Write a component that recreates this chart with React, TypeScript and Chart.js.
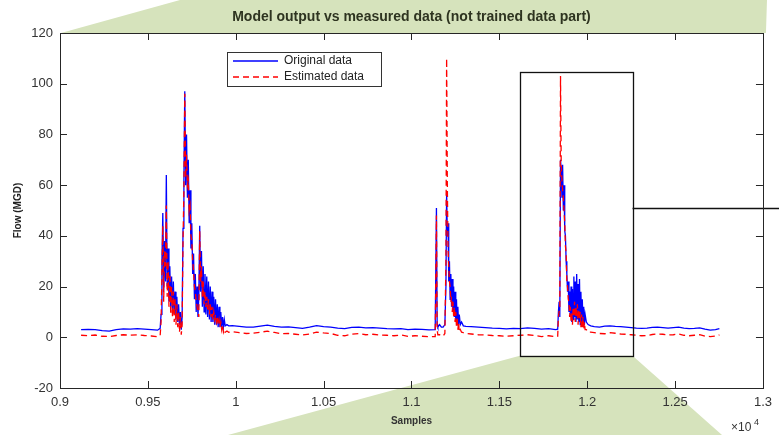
import React, { useEffect, useRef } from "react";
import { Chart, registerables } from "chart.js";

Chart.register(...registerables);

// ---- Data (samples, flow in MGD) ----
const samples = [
  // baseline before first event
  9120, 9160, 9200, 9240, 9280, 9320, 9360, 9400, 9440, 9480, 9520, 9555, 9570,
  // first event
  9575, 9580, 9585, 9590, 9595, 9600, 9605, 9610, 9615, 9620, 9625, 9630, 9635, 9640, 9645, 9650,
  9655, 9660, 9665, 9670, 9675, 9680, 9685, 9690, 9695, 9700, 9705, 9710, 9715, 9720, 9725, 9730,
  9735, 9740, 9745, 9750, 9755, 9760, 9765, 9770, 9775, 9780, 9785, 9790, 9795, 9800, 9805, 9810,
  9815, 9820, 9825, 9830, 9835, 9840, 9845, 9850, 9855, 9860, 9865, 9870, 9875, 9880, 9885, 9890,
  9895, 9900, 9905, 9910, 9915, 9920, 9925, 9930, 9935, 9940, 9950, 9960,
  // baseline
  9980, 10020, 10060, 10100, 10140, 10180, 10220, 10260, 10300, 10340, 10380, 10420, 10460, 10500,
  10540, 10580, 10620, 10660, 10700, 10740, 10780, 10820, 10860, 10900, 10940, 10980, 11020, 11060,
  11100, 11135,
  // second event
  11142, 11146, 11150, 11160, 11170, 11180, 11190, 11196, 11200, 11204, 11208, 11212, 11216, 11220,
  11224, 11228, 11232, 11236, 11240, 11244, 11248, 11252, 11256, 11260, 11264, 11268, 11272, 11278,
  11285, 11295, 11310,
  // baseline
  11340, 11380, 11420, 11460, 11500, 11540, 11580, 11620, 11660, 11700, 11740, 11780, 11820, 11832,
  // third event
  11836, 11840, 11844, 11848, 11852, 11856, 11860, 11864, 11868, 11872, 11876, 11880, 11884, 11888,
  11892, 11896, 11900, 11904, 11908, 11912, 11916, 11920, 11924, 11928, 11932, 11936, 11940, 11944,
  11948, 11952, 11956, 11960, 11964, 11968, 11972, 11976, 11980, 11984, 11988, 11995, 12005, 12020,
  12040,
  // baseline after
  12070, 12100, 12130, 12160, 12190, 12220, 12250, 12280, 12310, 12340, 12370, 12400, 12430, 12460,
  12490, 12520, 12550, 12580, 12610, 12640, 12670, 12700, 12730, 12752,
];

const originalFlow = [
  3.0, 3.1, 3.0, 2.6, 2.4, 3.0, 3.3, 3.2, 3.4, 3.2, 3.0, 2.8, 3.5,
  9, 30, 49, 18, 38, 22, 64, 20, 35, 14, 28, 12, 24, 10, 22, 9,
  18, 7, 16, 6, 13, 5, 10, 3, 8, 43, 62, 97, 60, 80, 55, 70,
  45, 58, 35, 45, 25, 33, 15, 25, 10, 20, 8, 16, 44, 18, 34, 12,
  28, 10, 25, 9, 24, 8, 22, 7, 20, 6, 18, 6, 16, 5, 15, 5,
  13, 4, 12, 4, 10, 4, 8, 4, 7, 4.5, 5, 4.5,
  4.6, 4.3, 4.0, 4.0, 4.4, 4.8, 4.3, 4.0, 4.1, 3.8, 3.5, 4.0, 4.6, 4.2,
  4.0, 3.6, 3.4, 3.9, 4.0, 3.7, 3.8, 3.6, 3.4, 3.3, 3.4, 3.0, 3.2, 3.1,
  2.9, 3.0,
  51, 5, 4, 5, 4, 4, 5, 20, 57, 40, 45, 22, 30, 15,
  25, 12, 23, 10, 20, 8, 18, 6, 15, 5, 12, 5, 9, 5,
  6, 4.5, 4.3,
  4.2, 4.0, 3.8, 3.6, 3.5, 3.3, 3.5, 3.4, 3.7, 3.5, 3.2, 3.4, 3.0, 3.2,
  10, 14, 8, 70, 66, 55, 68, 50, 60, 42, 40, 30, 25, 18,
  22, 10, 18, 8, 20, 6, 19, 7, 24, 8, 22, 6, 25, 7,
  21, 6, 23, 5, 18, 6, 15, 5, 12, 5, 9, 6, 5, 4.5,
  4.2,
  4.0, 4.4, 4.5, 4.3, 4.2, 4.0, 3.8, 3.6, 3.5, 3.6, 3.9, 4.0, 3.8, 3.6,
  3.8, 4.0, 3.6, 3.4, 3.5, 3.7, 3.2, 2.8, 3.0, 3.4,
];

const estimatedFlow = [
  0.8, 0.6, 0.9, 0.4, 0.3, 0.7, 1.0, 0.8, 1.0, 0.7, 0.5, 0.2, 0.8,
  6, 25, 44, 14, 34, 28, 52, 16, 30, 12, 25, 9, 20, 8, 18, 6,
  15, 5, 13, 4, 10, 2, 8, 1, 5, 38, 58, 96, 63, 72, 60, 62,
  50, 52, 40, 38, 30, 26, 20, 18, 14, 12, 10, 8, 42, 22, 28, 16,
  22, 13, 18, 12, 16, 11, 15, 9, 13, 8, 12, 7, 10, 7, 9, 6,
  8, 5, 7, 4, 6, 3, 5, 2, 3, 2, 2.5, 2,
  2.2, 1.8, 1.5, 1.6, 2.0, 2.4, 1.9, 1.4, 1.5, 1.2, 0.9, 1.3, 2.0, 1.7,
  1.5, 0.8, 0.6, 1.2, 1.5, 1.0, 1.2, 0.9, 0.8, 0.6, 0.9, 0.4, 0.6, 0.4,
  0.2, 0.3,
  48, 3, 1, 1, 0.5, 0.5, 1.5, 30, 110, 60, 35, 28, 22, 20,
  14, 16, 10, 14, 8, 12, 6, 10, 4, 8, 3, 6, 2, 3,
  2, 1.8, 1.5,
  1.3, 1.0, 0.9, 0.7, 0.6, 0.4, 0.6, 0.8, 1.0, 0.7, 0.3, 0.6, 0.2, 0.4,
  8, 10, 12, 103, 68, 62, 58, 55, 50, 45, 36, 33, 22, 20,
  15, 14, 8, 12, 6, 10, 5, 12, 8, 14, 6, 12, 8, 13,
  5, 11, 7, 10, 4, 9, 4, 8, 3, 6, 3, 3, 2, 2,
  1.8,
  1.5, 1.4, 1.8, 1.6, 1.3, 1.2, 1.0, 0.8, 0.6, 0.7, 1.1, 1.3, 1.2, 0.9,
  1.0, 1.3, 0.8, 0.6, 0.8, 1.0, 0.4, 0.3, 0.5, 0.9,
];

const xTickValues = [9000, 9500, 10000, 10500, 11000, 11500, 12000, 12500, 13000];
const yTickValues = [-20, 0, 20, 40, 60, 80, 100, 120];

const seriesNames = ["Original data", "Estimated data"];
const chartTitle = "Model output vs measured data (not trained data part)";

// zoom box annotation (data coordinates)
const zoomBox = { x0: 11616, x1: 12258, y0: -7.3, y1: 104.8 };
const calloutY = 50.8;

const GREEN = "rgb(214,227,188)";
const AXIS = "#262626";
const FONT = "'Liberation Sans', Arial, Helvetica, sans-serif";

const decorPlugin = {
  id: "decor",
  beforeDraw(chart: any) {
    const { ctx, chartArea, scales } = chart;
    const H = chart.height;
    ctx.save();
    ctx.fillStyle = GREEN;
    // top callout shape
    ctx.beginPath();
    ctx.moveTo(chartArea.left + 1, chartArea.top);
    ctx.lineTo(180, 0);
    ctx.lineTo(767, 0);
    ctx.lineTo(chartArea.right + 3, chartArea.top);
    ctx.closePath();
    ctx.fill();
    // bottom callout shape from zoom box
    const bx0 = scales.x.getPixelForValue(zoomBox.x0);
    const bx1 = scales.x.getPixelForValue(zoomBox.x1);
    const by = scales.y.getPixelForValue(zoomBox.y0);
    ctx.beginPath();
    ctx.moveTo(bx0, by);
    ctx.lineTo(bx1, by);
    ctx.lineTo(722, H);
    ctx.lineTo(228, H);
    ctx.closePath();
    ctx.fill();
    ctx.restore();
  },
  afterDatasetsDraw(chart: any) {
    const { ctx, scales } = chart;
    const bx0 = scales.x.getPixelForValue(zoomBox.x0);
    const bx1 = scales.x.getPixelForValue(zoomBox.x1);
    const by0 = scales.y.getPixelForValue(zoomBox.y0);
    const by1 = scales.y.getPixelForValue(zoomBox.y1);
    const cy = scales.y.getPixelForValue(calloutY);
    ctx.save();
    ctx.strokeStyle = "#111";
    ctx.lineWidth = 1.3;
    ctx.strokeRect(Math.round(bx0) + 0.5, Math.round(by1) + 0.5, Math.round(bx1 - bx0), Math.round(by0 - by1));
    ctx.beginPath();
    ctx.moveTo(bx1, Math.round(cy) + 0.5);
    ctx.lineTo(chart.width, Math.round(cy) + 0.5);
    ctx.stroke();
    ctx.restore();
  },
  afterDraw(chart: any) {
    const { ctx, chartArea, scales } = chart;
    const { left, right, top, bottom } = chartArea;
    ctx.save();
    // box
    ctx.strokeStyle = AXIS;
    ctx.lineWidth = 1;
    ctx.strokeRect(Math.round(left) + 0.5, Math.round(top) + 0.5, Math.round(right - left), Math.round(bottom - top));
    // inward ticks
    const tl = 7;
    ctx.beginPath();
    xTickValues.forEach((v) => {
      const px = Math.round(scales.x.getPixelForValue(v)) + 0.5;
      ctx.moveTo(px, bottom);
      ctx.lineTo(px, bottom - tl);
      ctx.moveTo(px, top);
      ctx.lineTo(px, top + tl);
    });
    yTickValues.forEach((v) => {
      const py = Math.round(scales.y.getPixelForValue(v)) + 0.5;
      ctx.moveTo(left, py);
      ctx.lineTo(left + tl, py);
      ctx.moveTo(right, py);
      ctx.lineTo(right - tl, py);
    });
    ctx.stroke();

    // title
    ctx.fillStyle = "#2e3420";
    ctx.font = `bold 14px ${FONT}`;
    ctx.textAlign = "center";
    ctx.textBaseline = "middle";
    ctx.fillText(chartTitle, (left + right) / 2, 17);

    // exponent label
    ctx.fillStyle = "#333";
    ctx.textAlign = "left";
    ctx.textBaseline = "alphabetic";
    ctx.font = `12px ${FONT}`;
    ctx.fillText("\u00d710", 731, 431);
    ctx.font = `9px ${FONT}`;
    ctx.fillText("4", 754, 425);

    // legend
    const lx = 227, ly = 52, lw = 154, lh = 34;
    ctx.fillStyle = "#fff";
    ctx.fillRect(lx, ly, lw, lh);
    ctx.strokeStyle = "#333";
    ctx.lineWidth = 1;
    ctx.strokeRect(lx + 0.5, ly + 0.5, lw, lh);
    const ds = chart.data.datasets;
    ds.forEach((d: any, i: number) => {
      const yy = ly + 9 + i * 16;
      ctx.beginPath();
      ctx.strokeStyle = d.borderColor;
      ctx.lineWidth = 1.4;
      ctx.setLineDash(d.borderDash || []);
      ctx.moveTo(lx + 6, yy);
      ctx.lineTo(lx + 51, yy);
      ctx.stroke();
      ctx.setLineDash([]);
      ctx.fillStyle = "#222";
      ctx.font = `12px ${FONT}`;
      ctx.textAlign = "left";
      ctx.textBaseline = "middle";
      ctx.fillText(d.label, lx + 57, yy);
    });
    ctx.restore();
  },
};

export default function App() {
  const ref = useRef<HTMLCanvasElement | null>(null);
  useEffect(() => {
    if (!ref.current) return;
    const chart = new Chart(ref.current, {
      type: "line",
      data: {
        datasets: [
          {
            label: seriesNames[0],
            data: samples.map((x, i) => ({ x, y: originalFlow[i] })),
            borderColor: "#0000ff",
            borderWidth: 1.3,
            pointRadius: 0,
            tension: 0,
            order: 2,
          },
          {
            label: seriesNames[1],
            data: samples.map((x, i) => ({ x, y: estimatedFlow[i] })),
            borderColor: "#ff0000",
            borderWidth: 1.3,
            borderDash: [6, 4],
            pointRadius: 0,
            tension: 0,
            order: 1,
          },
        ],
      },
      options: {
        responsive: false,
        animation: false,
        layout: { padding: { left: 0, right: 11, top: 33, bottom: 0 } },
        plugins: {
          legend: { display: false },
          title: { display: false },
          tooltip: { enabled: false },
        },
        scales: {
          x: {
            type: "linear",
            min: 9000,
            max: 13000,
            afterBuildTicks: (s: any) => {
              s.ticks = xTickValues.map((v) => ({ value: v }));
            },
            ticks: {
              callback: (v: any) => String(Number(v) / 10000),
              color: "#333",
              font: { family: FONT, size: 13 },
              padding: 7,
              maxRotation: 0,
              autoSkip: false,
            },
            grid: { display: false, drawTicks: false },
            border: { display: false },
            title: {
              display: true,
              text: "Samples",
              color: "#333",
              font: { family: FONT, size: 10, weight: "bold" },
              padding: { top: 0, bottom: 8 },
            },
            afterFit: (s: any) => {
              s.height = 47;
            },
          },
          y: {
            type: "linear",
            min: -20,
            max: 120,
            afterBuildTicks: (s: any) => {
              s.ticks = yTickValues.map((v) => ({ value: v }));
            },
            ticks: {
              color: "#333",
              font: { family: FONT, size: 13 },
              padding: 7,
            },
            grid: { display: false, drawTicks: false },
            border: { display: false },
            title: {
              display: true,
              text: "Flow (MGD)",
              color: "#222",
              font: { family: FONT, size: 10, weight: "bold" },
              padding: { top: 12, bottom: 0 },
            },
            afterFit: (s: any) => {
              s.width = 60;
            },
          },
        },
      },
      plugins: [decorPlugin],
    } as any);
    return () => chart.destroy();
  }, []);
  return (
    <div style={{ position: "fixed", left: 0, top: 0, width: 779, height: 435, background: "#fff" }}>
      <canvas ref={ref} width={779} height={435} style={{ display: "block" }} />
    </div>
  );
}
